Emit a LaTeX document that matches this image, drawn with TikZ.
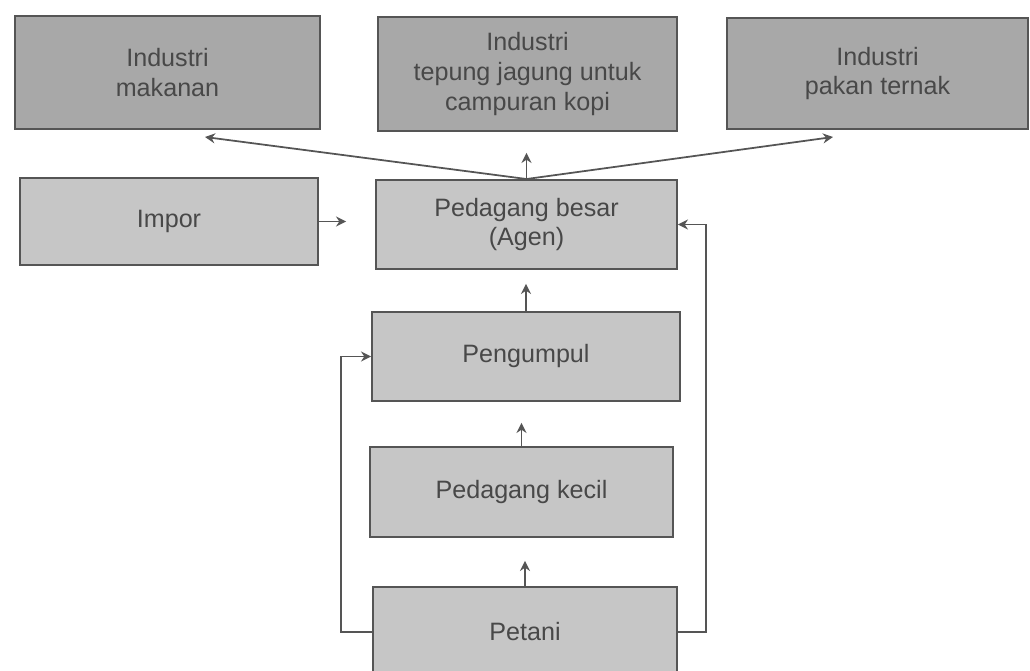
\documentclass[tikz,border=0pt]{standalone}
\usepackage{fontspec}
\setmainfont{Liberation Sans}
\usetikzlibrary{arrows.meta,calc}
\definecolor{boxdark}{RGB}{168,168,168}
\definecolor{boxlight}{RGB}{198,198,198}
\definecolor{edgegray}{RGB}{85,85,85}
\definecolor{textgray}{RGB}{72,72,72}
\tikzset{
   box/.style = {draw=edgegray, line width=1.1pt, fill=boxlight, text=textgray,
                 align=center, inner sep=0pt, font=\fontsize{14.3}{17}\selectfont},
   topbox/.style = {box, fill=boxdark},
   arr/.style = {-{Stealth[length=2mm,width=2mm]}, draw=edgegray, line width=1pt}
}
\begin{document}
\begin{tikzpicture}

		\useasboundingbox (0,0) rectangle (20.6,13.42);

		% Industri
		\node[topbox, minimum width=6.1cm, minimum height=2.26cm] (indmak) at (3.35,11.97) {Industri\\makanan};
		\node[topbox, minimum width=5.98cm, minimum height=2.28cm] (indtep) at (10.55,11.94) {Industri\\tepung jagung untuk\\campuran kopi};
		\node[topbox, minimum width=6.02cm, minimum height=2.22cm] (indpak) at (17.55,11.95) {Industri\\pakan ternak};

		% Pedagang
		\node[box, minimum width=5.96cm, minimum height=1.74cm] (impor) at (3.38,8.99) {Impor};
		\node[box, minimum width=6.02cm, minimum height=1.78cm] (besar) at (10.53,8.93) {Pedagang besar\\(Agen)};
		\node[box, minimum width=6.16cm, minimum height=1.78cm] (kumpul) at (10.52,6.29) {Pengumpul};
		\node[box, minimum width=6.06cm, minimum height=1.8cm] (kecil) at (10.43,3.58) {Pedagang kecil};
		\node[box, minimum width=6.08cm, minimum height=1.8cm] (petani) at (10.5,0.78) {Petani};

		% Tips
		\coordinate (tipmak) at (4.1,10.68);
		\coordinate (tippak) at (16.66,10.68);

		% Arrows
		\draw[arr, shorten >=0.46cm] (petani.north) -- (petani.north |- kecil.south);
		\draw[arr, shorten >=0.42cm] (kecil.north) -- (kecil.north |- kumpul.south);
		\draw[arr, shorten >=0.28cm] (kumpul.north) -- (kumpul.north |- besar.south);
		\draw[arr, shorten >=0.42cm] (besar.north) -- (besar.north |- indtep.south);
		\draw[arr, shorten >=0.58cm] (impor.east) -- (impor.east -| besar.west);
		\draw[arr] (besar.north) -- (tipmak);
		\draw[arr] (besar.north) -- (tippak);
		%
		\draw[arr] (petani.west) -- ++(-0.62,0) |- (kumpul.west);
		\draw[arr] (petani.east) -- ++(0.56,0) |- (besar.east);

	\end{tikzpicture}
\end{document}
